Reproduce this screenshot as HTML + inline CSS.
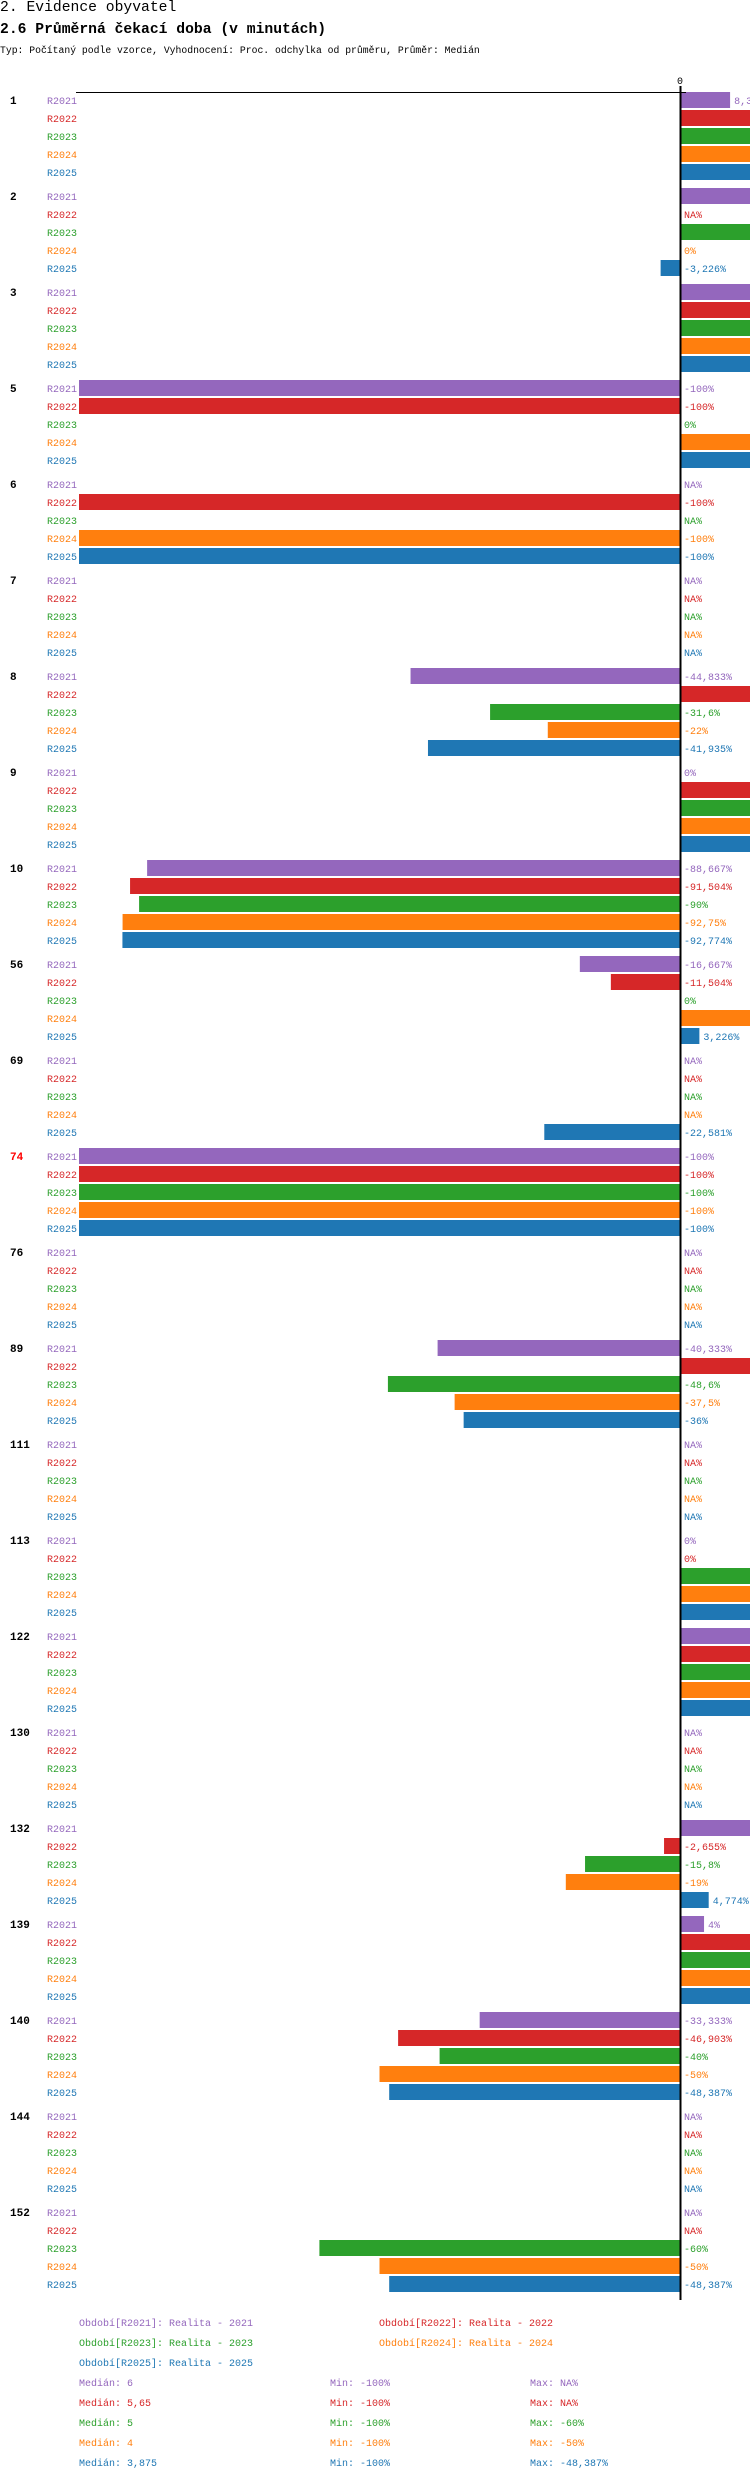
<!DOCTYPE html>
<html><head><meta charset="utf-8"><style>
body{margin:0;background:#fff;width:750px;height:2480px;overflow:hidden;font-family:"Liberation Mono",monospace}
.h{position:absolute;left:0;white-space:nowrap;color:#000}
</style></head><body>
<div class="h" style="top:0;font-size:14.7px">2. Evidence obyvatel</div>
<div class="h" style="top:22px;font-size:14.7px;font-weight:bold">2.6 Průměrná čekací doba (v minutách)</div>
<div class="h" style="top:45px;font-size:9.75px">Typ: Počítaný podle vzorce, Vyhodnocení: Proc. odchylka od průměru, Průměr: Medián</div>
<svg id="chart" width="750" height="2480" style="position:absolute;left:0;top:0" xmlns="http://www.w3.org/2000/svg" font-family="Liberation Mono, monospace"></svg>
<script>
const categories=["1","2","3","5","6","7","8","9","10","56","69","74","76","89","111","113","122","130","132","139","140","144","152"];
const seriesNames=["R2021","R2022","R2023","R2024","R2025"];
const P=30, NA=null;
const r2021=[8.333,P,P,-100,NA,NA,-44.833,0,-88.667,-16.667,NA,-100,NA,-40.333,NA,0,P,NA,P,4,-33.333,NA,NA];
const r2022=[P,NA,P,-100,-100,NA,P,P,-91.504,-11.504,NA,-100,NA,P,NA,0,P,NA,-2.655,P,-46.903,NA,NA];
const r2023=[P,P,P,0,NA,NA,-31.6,P,-90,0,NA,-100,NA,-48.6,NA,P,P,NA,-15.8,P,-40,NA,-60];
const r2024=[P,0,P,P,-100,NA,-22,P,-92.75,P,NA,-100,NA,-37.5,NA,P,P,NA,-19,P,-50,NA,-50];
const r2025=[P,-3.226,P,P,-100,NA,-41.935,P,-92.774,3.226,-22.581,-100,NA,-36,NA,P,P,NA,4.774,P,-48.387,NA,-48.387];
const series=[r2021,r2022,r2023,r2024,r2025];
const colors=["#9467bd","#d62728","#2ca02c","#ff7f0e","#1f77b4"];
const svgEl=document.getElementById('chart');
const NS="http://www.w3.org/2000/svg";
const x0=680, pxPer=6.01;
const xScale=v=>x0+v*pxPer;
const rowY=(g,r)=>92+g*96+r*18;
function fmt(v){return (Math.round(v*1000)/1000).toString().replace('.',',')+'%';}
function mk(tag,attrs){const e=document.createElementNS(NS,tag);for(const k in attrs)e.setAttribute(k,attrs[k]);svgEl.appendChild(e);return e;}
categories.forEach((c,g)=>{
  const t=mk('text',{x:10,y:rowY(g,0)+12,'font-size':11,'font-weight':'bold',fill:c==="74"?"#ff0000":"#000"});
  t.textContent=c;
  
  
  seriesNames.forEach((s,r)=>{
    const y=rowY(g,r);
    const lt=mk('text',{x:47,y:y+12,'font-size':10,fill:colors[r]});
    lt.textContent=s;
    
    
    const v=series[r][g];
    let labelX=x0+4;
    if(v!==null&&v!==0){
      const a=xScale(Math.min(0,v)), b=xScale(Math.max(0,v));
      const rect=mk('rect',{x:a,y:y,width:b-a,height:16,fill:colors[r]});
      
      
      if(v>0)labelX=b+4;
    }
    const vt=mk('text',{x:labelX,y:y+12,'font-size':10,fill:colors[r]});
    vt.textContent=v===null?'NA%':fmt(v);
    
    
  });
});
const topAxis=mk('line',{x1:76,y1:92.5,x2:686,y2:92.5,stroke:'#000','stroke-width':1});


const zl=mk('line',{x1:680.5,y1:86,x2:680.5,y2:2300,stroke:'#000','stroke-width':2});


const zt=mk('text',{x:680,y:84,'font-size':10,'text-anchor':'middle',fill:'#000'});
zt.textContent='0';


const legend=[["Období[R2021]: Realita - 2021",79,2326,0],["Období[R2022]: Realita - 2022",379,2326,1],["Období[R2023]: Realita - 2023",79,2346,2],["Období[R2024]: Realita - 2024",379,2346,3],["Období[R2025]: Realita - 2025",79,2366,4]];
legend.forEach(l=>{const e=mk('text',{x:l[1],y:l[2],'font-size':10,fill:colors[l[3]]});e.textContent=l[0];

});
const medians=["6","5,65","5","4","3,875"];
const mins=["-100%","-100%","-100%","-100%","-100%"];
const maxs=["NA%","NA%","-60%","-50%","-48,387%"];
seriesNames.forEach((s,i)=>{
  const y=2386+i*20;
  [["Medián: "+medians[i],79],["Min: "+mins[i],330],["Max: "+maxs[i],530]].forEach(p=>{
    const e=mk('text',{x:p[1],y:y,'font-size':10,fill:colors[i]});e.textContent=p[0];
    
    
  });
});
</script>
</body></html>
